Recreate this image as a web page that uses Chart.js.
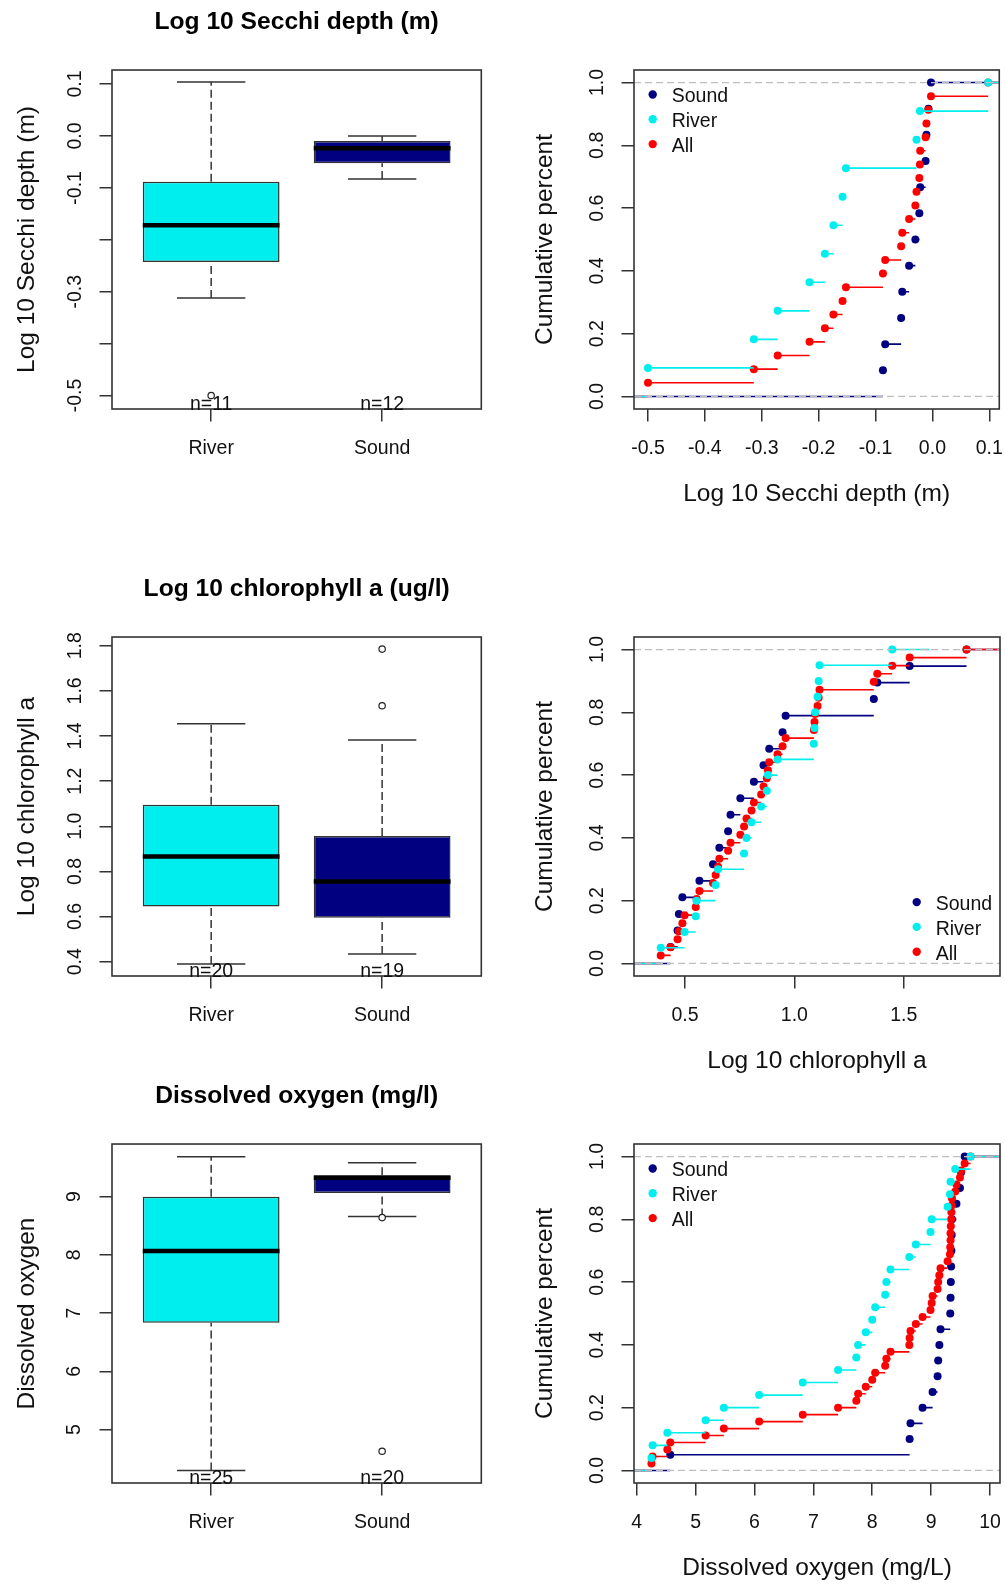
<!DOCTYPE html>
<html>
<head>
<meta charset="utf-8">
<title>River vs Sound water quality</title>
<script src="https://cdn.jsdelivr.net/npm/chart.js@4.4.1/dist/chart.umd.min.js"></script>
<style>
  html, body { margin: 0; padding: 0; background: #fff; overflow: hidden; }
  #page { position: relative; width: 1005px; height: 1585px; }
  #page canvas { position: absolute; }
</style>
</head>
<body>
<div id="page">
  <canvas id="secchiBox" width="500" height="510" style="left:0;top:0"></canvas>
  <canvas id="secchiCdf" width="510" height="510" style="left:495px;top:0"></canvas>
  <canvas id="chlBox" width="500" height="510" style="left:0;top:567px"></canvas>
  <canvas id="chlCdf" width="510" height="510" style="left:495px;top:567px"></canvas>
  <canvas id="doBox" width="500" height="510" style="left:0;top:1074px"></canvas>
  <canvas id="doCdf" width="510" height="510" style="left:495px;top:1074px"></canvas>
</div>
<script>
// categories
const groups = ["River", "Sound"];
const legendLabels = ["Sound", "River", "All"];

// --- Secchi depth (log10 m)
const secchiRiver = [-0.500, -0.314, -0.272, -0.216, -0.189, -0.174, -0.158, -0.152, -0.028, -0.022, 0.098];
const secchiSound = [-0.087, -0.083, -0.055, -0.053, -0.041, -0.030, -0.023, -0.0215, -0.012, -0.0105, -0.007, -0.0025];
// box stats: lower whisker, lower hinge, median, upper hinge, upper whisker
const secchiRiverBox = [-0.312, -0.243, -0.172, -0.088, 0.104];
const secchiSoundBox = [-0.083, -0.0525, -0.0237, -0.0096, 0.0];
const secchiRiverOut = [-0.5];
const secchiSoundOut = [];
const secchiBoxTicks = [-0.5, -0.4, -0.3, -0.2, -0.1, 0.0, 0.1];
const secchiBoxTickLabels = ["-0.5", "", "-0.3", "", "-0.1", "0.0", "0.1"];
const secchiCdfTicks = [-0.5, -0.4, -0.3, -0.2, -0.1, 0.0, 0.1];
const secchiCdfTickLabels = ["-0.5", "-0.4", "-0.3", "-0.2", "-0.1", "0.0", "0.1"];

// --- chlorophyll a (log10 ug/l)
const chlRiver = [0.389, 0.498, 0.549, 0.553, 0.640, 0.651, 0.770, 0.781, 0.804, 0.848,
  0.874, 0.879, 0.923, 1.089, 1.092, 1.095, 1.106, 1.111, 1.115, 1.447];
const chlSound = [0.434, 0.466, 0.472, 0.488, 0.566, 0.628, 0.657, 0.697, 0.708, 0.753,
  0.815, 0.859, 0.885, 0.946, 0.960, 1.363, 1.379, 1.527, 1.787];
const chlRiverBox = [0.390, 0.644, 0.866, 1.095, 1.454];
const chlSoundBox = [0.434, 0.595, 0.755, 0.957, 1.382];
const chlRiverOut = [];
const chlSoundOut = [1.785, 1.534];
const chlBoxTicks = [0.4, 0.6, 0.8, 1.0, 1.2, 1.4, 1.6, 1.8];
const chlBoxTickLabels = ["0.4", "0.6", "0.8", "1.0", "1.2", "1.4", "1.6", "1.8"];
const chlCdfTicks = [0.5, 1.0, 1.5];
const chlCdfTickLabels = ["0.5", "1.0", "1.5"];

// --- dissolved oxygen (mg/l)
const doRiver = [4.25, 4.27, 4.52, 5.17, 5.48, 6.08, 6.82, 7.42, 7.73, 7.76, 7.89, 8.00, 8.05,
  8.22, 8.24, 8.31, 8.63, 8.74, 8.99, 9.01, 9.28, 9.32, 9.33, 9.41, 9.67];
const doSound = [4.57, 8.635, 8.65, 8.855, 9.025, 9.11, 9.12, 9.14, 9.16, 9.325,
  9.33, 9.335, 9.34, 9.345, 9.35, 9.355, 9.43, 9.49, 9.51, 9.57];
const doRiverBox = [4.30, 6.835, 8.069, 9.0, 9.686];
const doSoundBox = [8.66, 9.063, 9.326, 9.365, 9.583];
const doRiverOut = [];
const doSoundOut = [8.64, 4.63];
const doBoxTicks = [5, 6, 7, 8, 9];
const doBoxTickLabels = ["5", "6", "7", "8", "9"];
const doCdfTicks = [4, 5, 6, 7, 8, 9, 10];
const doCdfTickLabels = ["4", "5", "6", "7", "8", "9", "10"];

const cumTicks = [0, 0.2, 0.4, 0.6, 0.8, 1.0];
const cumTickLabels = ["0.0", "0.2", "0.4", "0.6", "0.8", "1.0"];
const cumRefLines = [0, 1];

const seriesColors = { River: "#00eeee", Sound: "#000080", All: "#ff0000" };
const INK = "#333";
const FONT = "'Liberation Sans', Arial, sans-serif";

Chart.defaults.font.family = FONT;
Chart.defaults.color = "#111";
Chart.defaults.animation = false;
Chart.defaults.events = [];
Chart.defaults.plugins.legend.display = false;
Chart.defaults.plugins.tooltip.enabled = false;

function tickGrid() {
  return { offset: false, drawOnChartArea: false, drawTicks: true, tickLength: 12.5, color: INK, lineWidth: 1.5 };
}

function xAxis(min, max, ticks, labels, title) {
  return {
    type: "linear", min, max, offset: false,
    afterBuildTicks: (s) => { s.ticks = ticks.map((v) => ({ value: v })); },
    afterFit: (s) => { s.height = 101; },
    border: { display: false },
    grid: tickGrid(),
    ticks: { autoSkip: false, maxRotation: 0, padding: 2, color: "#111",
      font: { size: 19.5, lineHeight: 2.6 }, callback: (v, i) => labels[i] },
    title: { display: !!title, text: title || "", color: "#111",
      font: { size: 24.5, lineHeight: 1.2 }, padding: { top: 0, bottom: 1 } },
  };
}

function yAxis(min, max, ticks, labels, title, width, labelPad, titlePad) {
  return {
    type: "linear", min, max, beginAtZero: false,
    afterBuildTicks: (s) => { s.ticks = ticks.map((v) => ({ value: v })); },
    afterFit: (s) => { s.width = width; },
    border: { display: false },
    grid: tickGrid(),
    ticks: { autoSkip: false, minRotation: 90, maxRotation: 90, crossAlign: "center",
      padding: labelPad, color: "#111", font: { size: 19.5 }, callback: (v, i) => labels[i] },
    title: { display: true, text: title, color: "#111",
      font: { size: 24.5, lineHeight: 1.2 }, padding: { top: titlePad, bottom: 0 } },
  };
}

const framePlugin = {
  id: "frame",
  afterDraw(chart) {
    const { ctx, chartArea: a } = chart;
    ctx.save();
    ctx.strokeStyle = INK;
    ctx.lineWidth = 1.6;
    ctx.strokeRect(a.left, a.top, a.right - a.left, a.bottom - a.top);
    ctx.restore();
  },
};

const refLinePlugin = {
  id: "refLines",
  afterDatasetsDraw(chart) {
    const { ctx, chartArea: a, scales } = chart;
    ctx.save();
    ctx.strokeStyle = "#bebebe";
    ctx.lineWidth = 1.3;
    ctx.setLineDash([7, 4]);
    cumRefLines.forEach((v) => {
      const py = scales.y.getPixelForValue(v);
      ctx.beginPath();
      ctx.moveTo(a.left, py);
      ctx.lineTo(a.right, py);
      ctx.stroke();
    });
    ctx.restore();
  },
};

function nLabelPlugin(counts) {
  return {
    id: "nLabels",
    afterDraw(chart) {
      const { ctx, chartArea, scales } = chart;
      ctx.save();
      ctx.font = "19.5px " + FONT;
      ctx.fillStyle = "#111";
      ctx.textAlign = "center";
      ctx.textBaseline = "alphabetic";
      counts.forEach((n, i) => {
        ctx.fillText("n=" + n, scales.x.getPixelForValue(i + 1), chartArea.bottom + 0.5);
      });
      ctx.restore();
    },
  };
}

function legendPlugin(corner) {
  return {
    id: "cornerLegend",
    afterDraw(chart) {
      const { ctx, chartArea: a } = chart;
      const step = 24.8;
      const dotX = corner === "topleft" ? a.left + 18.7 : a.right - 83.3;
      const y0 = corner === "topleft" ? a.top + 24.5 : a.bottom - 24.3 - step * (legendLabels.length - 1);
      ctx.save();
      ctx.font = "19.5px " + FONT;
      ctx.textAlign = "left";
      ctx.textBaseline = "middle";
      legendLabels.forEach((lab, i) => {
        const y = y0 + i * step;
        ctx.fillStyle = seriesColors[lab];
        ctx.beginPath();
        ctx.arc(dotX, y, 4.2, 0, Math.PI * 2);
        ctx.fill();
        ctx.fillStyle = "#111";
        ctx.fillText(lab, dotX + 19, y + 2.5);
      });
      ctx.restore();
    },
  };
}

function boxChart(id, stats, outliers, counts, yMin, yMax, yTicks, yLabels, title, yTitle, labelPad) {
  const median = [], caps = [], whiskers = [], outs = [], boxes = [];
  stats.forEach((s, i) => {
    const x = i + 1;
    boxes.push({ x, y: [s[1], s[3]] });
    median.push({ x: x - 0.4, y: s[2] }, { x: x + 0.4, y: s[2] }, { x, y: null });
    caps.push({ x: x - 0.2, y: s[0] }, { x: x + 0.2, y: s[0] }, { x, y: null },
      { x: x - 0.2, y: s[4] }, { x: x + 0.2, y: s[4] }, { x, y: null });
    whiskers.push({ x, y: s[0] }, { x, y: s[1] }, { x, y: null },
      { x, y: s[3] }, { x, y: s[4] }, { x, y: null });
    outliers[i].forEach((v) => outs.push({ x, y: v }));
  });

  const line = { type: "line", pointRadius: 0, spanGaps: false, fill: false };
  return new Chart(document.getElementById(id), {
    type: "bar",
    data: {
      datasets: [
        { ...line, data: median, borderColor: "#000", borderWidth: 4.5, borderCapStyle: "butt" },
        { type: "line", data: outs, showLine: false, pointRadius: 3.2, pointStyle: "circle",
          pointBackgroundColor: "#fff", pointBorderColor: "#222", pointBorderWidth: 1.2 },
        { ...line, data: caps, borderColor: INK, borderWidth: 1.5 },
        { ...line, data: whiskers, borderColor: INK, borderWidth: 1.5, borderDash: [8, 4] },
        { type: "bar", data: boxes, backgroundColor: groups.map((g) => seriesColors[g]),
          borderColor: INK, borderWidth: 1.5, borderSkipped: false,
          barPercentage: 0.8, categoryPercentage: 1.0 },
      ],
    },
    options: {
      responsive: false,
      layout: { padding: { top: 0, left: 0, right: 18.7, bottom: 0 } },
      plugins: {
        title: { display: true, text: title, color: "#000", fullSize: false,
          font: { size: 24.6, weight: "bold", lineHeight: 1.2 }, padding: { top: 7.2, bottom: 33.3 } },
      },
      scales: {
        x: xAxis(0.42, 2.58, [1, 2], groups, ""),
        y: yAxis(yMin, yMax, yTicks, yLabels, yTitle, 112, labelPad, 12.3),
      },
    },
    plugins: [framePlugin, nLabelPlugin(counts)],
  });
}

// step pieces of an empirical cdf: dots at each value, flat runs to the next one
function ecdfParts(values, rightTail) {
  const v = values.slice().sort((a, b) => a - b);
  const n = v.length;
  const pts = v.map((x, i) => ({ x, y: (i + 1) / n }));
  const seg = [{ x: v[0] - 100, y: 0 }, { x: v[0], y: 0 }, { x: v[0], y: null }];
  const tail = rightTail ? v[n - 1] + 0.16 * (v[n - 1] - v[0]) : v[n - 1] + 100;
  for (let i = 0; i < n; i++) {
    const next = i < n - 1 ? v[i + 1] : tail;
    seg.push({ x: v[i], y: (i + 1) / n }, { x: next, y: (i + 1) / n }, { x: next, y: null });
  }
  return { pts, seg };
}

function cdfChart(id, river, sound, xMin, xMax, xTicks, xLabels, xTitle, corner) {
  const parts = {
    River: ecdfParts(river, true),
    All: ecdfParts(river.concat(sound), true),
    Sound: ecdfParts(sound, false),
  };
  const datasets = [];
  ["River", "All", "Sound"].forEach((name) => {
    const c = seriesColors[name];
    datasets.push(
      { data: parts[name].pts, showLine: false, pointRadius: 4, pointBorderWidth: 0,
        pointBackgroundColor: c, pointBorderColor: c },
      { data: parts[name].seg, showLine: true, spanGaps: false, pointRadius: 0,
        borderColor: c, borderWidth: 1.6 }
    );
  });
  return new Chart(document.getElementById(id), {
    type: "scatter",
    data: { datasets },
    options: {
      responsive: false,
      layout: { padding: { top: 70, left: 0, right: 5, bottom: 0 } },
      scales: {
        x: xAxis(xMin, xMax, xTicks, xLabels, xTitle),
        y: yAxis(-0.04, 1.04, cumTicks, cumTickLabels, "Cumulative percent", 139, 10.4, 35.6),
      },
    },
    plugins: [refLinePlugin, framePlugin, legendPlugin(corner)],
  });
}

boxChart("secchiBox", [secchiRiverBox, secchiSoundBox], [secchiRiverOut, secchiSoundOut],
  [secchiRiver.length, secchiSound.length], -0.526, 0.127, secchiBoxTicks, secchiBoxTickLabels,
  "Log 10 Secchi depth (m)", "Log 10 Secchi depth (m)", 6.7);
cdfChart("secchiCdf", secchiRiver, secchiSound, -0.5246, 0.1175, secchiCdfTicks, secchiCdfTickLabels,
  "Log 10 Secchi depth (m)", "topleft");

boxChart("chlBox", [chlRiverBox, chlSoundBox], [chlRiverOut, chlSoundOut],
  [chlRiver.length, chlSound.length], 0.3366, 1.8386, chlBoxTicks, chlBoxTickLabels,
  "Log 10 chlorophyll a (ug/l)", "Log 10 chlorophyll a", 10.2);
cdfChart("chlCdf", chlRiver, chlSound, 0.2668, 1.940, chlCdfTicks, chlCdfTickLabels,
  "Log 10 chlorophyll a", "bottomright");

boxChart("doBox", [doRiverBox, doSoundBox], [doRiverOut, doSoundOut],
  [doRiver.length, doSound.length], 4.085, 9.903, doBoxTicks, doBoxTickLabels,
  "Dissolved oxygen (mg/l)", "Dissolved oxygen", 19.1);
cdfChart("doCdf", doRiver, doSound, 3.954, 10.17, doCdfTicks, doCdfTickLabels,
  "Dissolved oxygen (mg/L)", "topleft");
</script>
</body>
</html>
